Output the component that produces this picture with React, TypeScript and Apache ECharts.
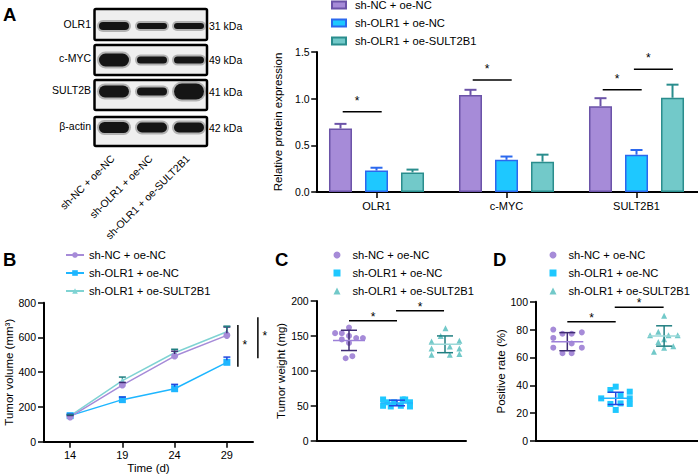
import React, { useEffect, useRef } from 'react';
import * as echarts from 'echarts';

const FONT = "'Liberation Sans', Arial, Helvetica, sans-serif";

// ---------------- data ----------------
const groups = ['sh-NC + oe-NC', 'sh-OLR1 + oe-NC', 'sh-OLR1 + oe-SULT2B1'];

// Panel A: western blot
const blotProteins = ['OLR1', 'c-MYC', 'SULT2B', 'β-actin'];
const blotSizes = ['31 kDa', '49 kDa', '41 kDa', '42 kDa'];
const bandIntensity = [
  [0.8, 0.6, 0.6],
  [1.3, 0.7, 0.7],
  [1.2, 0.8, 1.6],
  [1.1, 1.0, 1.0],
];

// Panel A: relative protein expression
const proteinCats = ['OLR1', 'c-MYC', 'SULT2B1'];
const protNC = [0.68, 1.04, 0.92];
const protNCErr = [0.05, 0.055, 0.085];
const protOLR1 = [0.23, 0.345, 0.4];
const protOLR1Err = [0.03, 0.035, 0.05];
const protSULT = [0.21, 0.325, 1.01];
const protSULTErr = [0.03, 0.075, 0.14];
const protSig = [
  [-0.26, 0.04, 0.86],
  [0.74, 1.04, 1.2],
  [1.74, 2.04, 1.096],
  [1.98, 2.28, 1.315],
];

// Panel B: tumor volume
const days = ['14', '19', '24', '29'];
const volNC = [143, 326, 493, 612];
const volNCErr = [8, 15, 28, 48];
const volOLR1 = [150, 242, 305, 457];
const volOLR1Err = [8, 15, 25, 30];
const volSULT = [148, 352, 512, 633];
const volSULTErr = [8, 20, 20, 32];
const volSig = [
  [3, 432, 672],
  [3, 480, 716],
];

// Panel C: tumor weight
const weightNC = [162, 154, 154, 150, 145, 147, 147, 140, 118, 121];
const weightNCJit = [0, -0.29, -0.15, 0, -0.15, 0.15, 0.29, 0, -0.07, 0.07];
const weightOLR1 = [59, 59, 59, 55, 55, 55, 50, 49, 50, 49];
const weightOLR1Jit = [-0.29, 0.12, 0.17, -0.2, -0.06, 0.27, -0.29, -0.13, 0.08, 0.27];
const weightSULT = [161, 150, 142, 143, 135, 132, 132, 123, 123, 124];
const weightSULTJit = [0.01, -0.09, -0.28, 0.3, 0.1, -0.28, 0.3, -0.28, 0.1, 0.3];
const weightMean = [143.6, 54, 138];
const weightSD = [14.5, 4, 12];
const weightSig = [
  [0, 1, 171.7],
  [0.98, 1.98, 186],
];

// Panel D: positive rate
const rateNC = [80, 77, 77, 78, 74, 70, 67, 67, 63, 63];
const rateNCJit = [-0.29, -0.1, 0.09, 0.3, -0.29, 0.09, -0.29, 0.3, -0.1, 0.09];
const rateOLR1 = [30.6, 36.6, 39, 22.3, 35.4, 30.6, 26.6, 26.6, 33, 27];
const rateOLR1Jit = [-0.3, -0.11, 0, 0, 0.29, 0.29, 0.29, -0.11, 0.1, 0.1];
const rateSULT = [90, 78.5, 76, 76, 76, 73, 71, 64, 68, 67];
const rateSULTJit = [0, -0.12, -0.29, 0.09, 0.28, 0, -0.12, -0.21, 0.19, 0];
const rateMean = [71.3, 30.6, 75.4];
const rateSD = [6.5, 4.4, 7.3];
const rateSig = [
  [0, 1, 85.6],
  [0.98, 1.99, 96],
];

// ---------------- styles ----------------
const COLORS = [
  { fill: '#a68bd8', edge: '#6b53a8', dark: '#3e2b72', mean: '#9c80d8', line: '#a68bd8' },
  { fill: '#1ec8ff', edge: '#2b68ee', dark: '#2049e0', mean: '#22b6ff', line: '#1eb6ff' },
  { fill: '#72c9c9', edge: '#2a8d8d', dark: '#1f7e80', mean: '#9bd8d8', line: '#7fd3d3' },
];
const SYMBOLS = ['circle', 'rect', 'triangle'];

const axisLine = { show: true, onZero: false, lineStyle: { color: '#000', width: 2 } };
const tick = (len: number) => ({ show: true, length: len, lineStyle: { color: '#000', width: 1.5 } });
const lbl = (margin: number, extra: any = {}) => ({
  color: '#000', fontSize: 10.5, fontFamily: FONT, margin, ...extra,
});
const nameStyle = { color: '#000', fontSize: 11.5, fontFamily: FONT };

function line(x1: number, y1: number, x2: number, y2: number, stroke: string, lw = 1.5) {
  return { type: 'line', shape: { x1, y1, x2, y2 }, style: { stroke, lineWidth: lw } };
}
function star(x: number, y: number) {
  return {
    type: 'text', x, y,
    style: { text: '*', fill: '#000', fontSize: 12, fontFamily: FONT, align: 'center', verticalAlign: 'middle' },
  };
}

function sigSeries(axis: number, data: number[][], frac: number, lift: number) {
  return {
    type: 'custom', xAxisIndex: axis, yAxisIndex: axis, silent: true, clip: false, z: 5,
    encode: { x: [0, 1], y: 2 },
    data,
    renderItem: (_p: any, api: any) => {
      const a = api.coord([api.value(0), api.value(2)]);
      const b = api.coord([api.value(1), api.value(2)]);
      return {
        type: 'group',
        children: [
          line(a[0], a[1], b[0], b[1], '#000', 1.5),
          star(a[0] + frac * (b[0] - a[0]), a[1] - lift),
        ],
      };
    },
  };
}

function scatterPanel(axis: number, prefix: string, vals: number[][], jit: number[][], mean: number[], sd: number[]) {
  const out: any[] = vals.map((v, i) => ({
    type: 'scatter', name: prefix + groups[i], xAxisIndex: axis, yAxisIndex: axis,
    data: v.map((y, j) => [i + jit[i][j], y]),
    symbol: SYMBOLS[i], symbolSize: 6,
    itemStyle: { color: COLORS[i].fill, opacity: 1 },
    silent: true, z: 2,
  }));
  out.push({
    type: 'custom', xAxisIndex: axis, yAxisIndex: axis, silent: true, z: 4,
    encode: { x: 0, y: 1 },
    data: mean.map((m, i) => [i, m, sd[i]]),
    renderItem: (p: any, api: any) => {
      const i = api.value(0), m = api.value(1), s = api.value(2);
      const c = COLORS[p.dataIndex];
      const pm = api.coord([i, m]);
      const pt = api.coord([i, m + s]);
      const pb = api.coord([i, m - s]);
      return {
        type: 'group',
        children: [
          line(pt[0], pt[1], pb[0], pb[1], c.dark, 1.5),
          line(pt[0] - 8, pt[1], pt[0] + 8, pt[1], c.dark, 1.5),
          line(pb[0] - 8, pb[1], pb[0] + 8, pb[1], c.dark, 1.5),
          line(pm[0] - 16, pm[1], pm[0] + 16, pm[1], c.mean, 1.5),
        ],
      };
    },
  });
  return out;
}

const offA = [-0.277, 0, 0.277];
const barSets = [protNC, protOLR1, protSULT];
const barErrs = [protNCErr, protOLR1Err, protSULTErr];
const volSets = [volNC, volOLR1, volSULT];
const volErrs = [volNCErr, volOLR1Err, volSULTErr];

function legend(prefix: string, left: number, top: number, iw: number, ih: number, pad: number, icon?: string) {
  const l: any = {
    orient: 'vertical', left, top, itemWidth: iw, itemHeight: ih, itemGap: 4, padding: 0,
    data: groups.map((g) => prefix + g),
    formatter: (n: string) => n.slice(2),
    selectedMode: false,
    textStyle: { color: '#000', fontSize: 11.2, fontFamily: FONT, lineHeight: 14, padding: [0, 0, 0, pad] },
  };
  if (icon) l.icon = icon;
  return l;
}

// ---------------- graphic (blot, panel letters) ----------------
const laneX = [114, 152, 189];
const boxTop = [9, 45, 80, 117];
const boxH = [31, 30, 30, 29];
const bandY = [26, 60, 91.5, 127.5];

function buildGraphic() {
  const g: any[] = [];
  const txt = (text: string, x: number, y: number, align: string, size = 10.5, extra: any = {}) => ({
    type: 'text', x, y, ...extra,
    style: { text, fill: '#000', fontSize: size, fontFamily: FONT, align, verticalAlign: 'middle' },
  });
  blotProteins.forEach((p, r) => {
    g.push({
      type: 'rect', z: 1,
      shape: { x: 94.5, y: boxTop[r], width: 112.5, height: boxH[r], r: 1.5 },
      style: { fill: '#efefef', stroke: '#000', lineWidth: 2.5 },
    });
    laneX.forEach((lx, l) => {
      const h = 10 * bandIntensity[r][l];
      // soft halo
      g.push({
        type: 'rect', z: 2,
        shape: { x: lx - 17, y: bandY[r] - h / 2 - 2, width: 34, height: h + 4, r: (h + 4) / 2 },
        style: { fill: 'rgba(20,20,20,0.28)' },
      });
      g.push({
        type: 'rect', z: 2,
        shape: { x: lx - 15, y: bandY[r] - h / 2, width: 30, height: h, r: h / 2 },
        style: { fill: '#151515' },
      });
    });
    g.push(txt(p, 91, bandY[r] - 2, 'right'));
    g.push(txt(blotSizes[r], 209, bandY[r], 'left'));
  });
  groups.forEach((name, l) => {
    g.push(txt(name, laneX[l] - 1, 157, 'right', 10.5, { rotation: Math.PI / 4 }));
  });
  const letter = (t: string, x: number, y: number) => ({
    type: 'text', x, y,
    style: { text: t, fill: '#000', fontSize: 18.5, fontWeight: 'bold', fontFamily: FONT, align: 'left', verticalAlign: 'middle' },
  });
  g.push(letter('A', 3, 14));
  g.push(letter('B', 3, 259));
  g.push(letter('C', 275, 259));
  g.push(letter('D', 493, 259));
  return g;
}

function buildOption(): any {
  const series: any[] = [];

  // ----- A bars -----
  barSets.forEach((vals, i) => {
    series.push({
      type: 'bar', name: 'A:' + groups[i], xAxisIndex: 0, yAxisIndex: 0,
      data: vals.map((v, k) => [k + offA[i], v]),
      barWidth: 23, barGap: '-100%',
      itemStyle: { color: COLORS[i].fill, borderColor: COLORS[i].edge, borderWidth: 1.5 },
      silent: true, z: 2,
    });
  });
  series.push({
    type: 'custom', xAxisIndex: 0, yAxisIndex: 0, silent: true, z: 3,
    encode: { x: 0, y: 1 },
    data: barSets.flatMap((vals, i) => vals.map((v, k) => [k + offA[i], v, barErrs[i][k], i])),
    renderItem: (_p: any, api: any) => {
      const x = api.value(0), v = api.value(1), e = api.value(2), i = api.value(3);
      const a = api.coord([x, v]);
      const b = api.coord([x, v + e]);
      const c = COLORS[i].edge;
      return {
        type: 'group',
        children: [line(a[0], a[1], b[0], b[1], c, 2), line(b[0] - 6, b[1], b[0] + 6, b[1], c, 2)],
      };
    },
  });
  series.push(sigSeries(0, protSig, 0.37, 11));

  // ----- B lines -----
  volSets.forEach((vals, i) => {
    series.push({
      type: 'line', name: 'B:' + groups[i], xAxisIndex: 1, yAxisIndex: 1,
      data: vals, symbol: SYMBOLS[i], symbolSize: i === 2 ? 6 : 7,
      lineStyle: { color: COLORS[i].line, width: 1.5 },
      itemStyle: { color: COLORS[i].line },
      silent: true, z: 3 - i + 2,
    });
  });
  series.push({
    type: 'custom', xAxisIndex: 1, yAxisIndex: 1, silent: true, z: 6,
    encode: { x: 0, y: 1 },
    data: volSets.flatMap((vals, i) => vals.map((v, k) => [k, v, volErrs[i][k], i])),
    renderItem: (_p: any, api: any) => {
      const x = api.value(0), v = api.value(1), e = api.value(2), i = api.value(3);
      const a = api.coord([x, v]);
      const b = api.coord([x, v + e]);
      const c = COLORS[i].dark;
      return {
        type: 'group',
        children: [line(a[0], a[1] - 2, b[0], b[1], c, 1.5), line(b[0] - 3.5, b[1], b[0] + 3.5, b[1], c, 1.5)],
      };
    },
  });
  const volSigOffset = [11, 31];
  const volStarLift = [1, 2];
  series.push({
    type: 'custom', xAxisIndex: 1, yAxisIndex: 1, silent: true, clip: false, z: 6,
    encode: { x: 0, y: [1, 2] },
    data: volSig,
    renderItem: (p: any, api: any) => {
      const lo = api.coord([api.value(0), api.value(1)]);
      const hi = api.coord([api.value(0), api.value(2)]);
      const x = lo[0] + volSigOffset[p.dataIndex];
      const mid = (lo[1] + hi[1]) / 2 - volStarLift[p.dataIndex];
      return { type: 'group', children: [line(x, lo[1], x, hi[1], '#000', 1.5), star(x + 7, mid)] };
    },
  });

  // ----- C & D scatter -----
  series.push(...scatterPanel(2, 'C:', [weightNC, weightOLR1, weightSULT], [weightNCJit, weightOLR1Jit, weightSULTJit], weightMean, weightSD));
  series.push(sigSeries(2, weightSig, 0.5, 4));
  series.push(...scatterPanel(3, 'D:', [rateNC, rateOLR1, rateSULT], [rateNCJit, rateOLR1Jit, rateSULTJit], rateMean, rateSD));
  series.push(sigSeries(3, rateSig, 0.5, 4));

  const grid = (left: number, top: number, width: number, height: number) => ({
    left, top, width, height, containLabel: false, outerBoundsMode: 'none',
  });

  return {
    animation: false,
    backgroundColor: '#fff',
    textStyle: { fontFamily: FONT },
    tooltip: { show: false },
    grid: [
      grid(316.7, 52, 381.3, 140),
      grid(44, 302.7, 209, 139),
      grid(316.7, 301, 149.3, 139.7),
      grid(536, 301.7, 162, 139.3),
    ],
    xAxis: [
      {
        type: 'value', gridIndex: 0, min: -0.46, max: 2.473,
        axisLine, splitLine: { show: false },
        axisTick: { ...tick(6), customValues: [0, 1, 2] },
        axisLabel: lbl(8, { fontSize: 11, customValues: [0, 1, 2], formatter: (v: number) => proteinCats[Math.round(v)] ?? '' }),
      },
      {
        type: 'category', gridIndex: 1, data: days, boundaryGap: true,
        axisLine, splitLine: { show: false },
        axisTick: { ...tick(6), alignWithLabel: true },
        axisLabel: lbl(8, { fontSize: 11 }),
        name: 'Time (d)', nameLocation: 'middle', nameGap: 20, nameTextStyle: nameStyle,
      },
      {
        type: 'value', gridIndex: 2, min: -0.673, max: 2.4375,
        axisLine, splitLine: { show: false }, axisTick: { show: false }, axisLabel: { show: false },
      },
      {
        type: 'value', gridIndex: 3, min: -0.647, max: 2.7,
        axisLine, splitLine: { show: false }, axisTick: { show: false }, axisLabel: { show: false },
      },
    ],
    yAxis: [
      {
        type: 'value', gridIndex: 0, min: 0, max: 1.5, interval: 0.5,
        axisLine, splitLine: { show: false }, axisTick: tick(5.5),
        axisLabel: lbl(7, { formatter: (v: number) => v.toFixed(1) }),
        name: 'Relative protein expression', nameLocation: 'middle', nameGap: 27, nameTextStyle: nameStyle,
      },
      {
        type: 'value', gridIndex: 1, min: 0, max: 800, interval: 200,
        axisLine, splitLine: { show: false }, axisTick: tick(6),
        axisLabel: lbl(8),
        name: 'Tumor volume (mm³)', nameLocation: 'middle', nameGap: 28, nameTextStyle: nameStyle,
      },
      {
        type: 'value', gridIndex: 2, min: 0, max: 200, interval: 50,
        axisLine, splitLine: { show: false }, axisTick: tick(6),
        axisLabel: lbl(8),
        name: 'Tumor weight (mg)', nameLocation: 'middle', nameGap: 29, nameTextStyle: nameStyle,
      },
      {
        type: 'value', gridIndex: 3, min: 0, max: 100, interval: 20,
        axisLine, splitLine: { show: false }, axisTick: tick(6),
        axisLabel: lbl(8),
        name: 'Positive rate (%)', nameLocation: 'middle', nameGap: 28.5, nameTextStyle: nameStyle,
      },
    ],
    legend: [
      legend('A:', 331, -2, 14, 7, 4, 'rect'),
      legend('B:', 65, 248, 18, 7, 0),
      legend('C:', 333.5, 248, 7, 7, 7),
      legend('D:', 549.5, 248, 7, 7, 7),
    ],
    graphic: buildGraphic(),
    series,
  };
}

export default function App() {
  const ref = useRef<HTMLDivElement>(null);
  useEffect(() => {
    if (!ref.current) return;
    const chart = echarts.init(ref.current, null, { renderer: 'svg' });
    chart.setOption(buildOption());
    return () => chart.dispose();
  }, []);
  return (
    <div
      ref={ref}
      style={{ position: 'absolute', left: 0, top: 0, width: 698, height: 475, background: '#fff' }}
    />
  );
}
